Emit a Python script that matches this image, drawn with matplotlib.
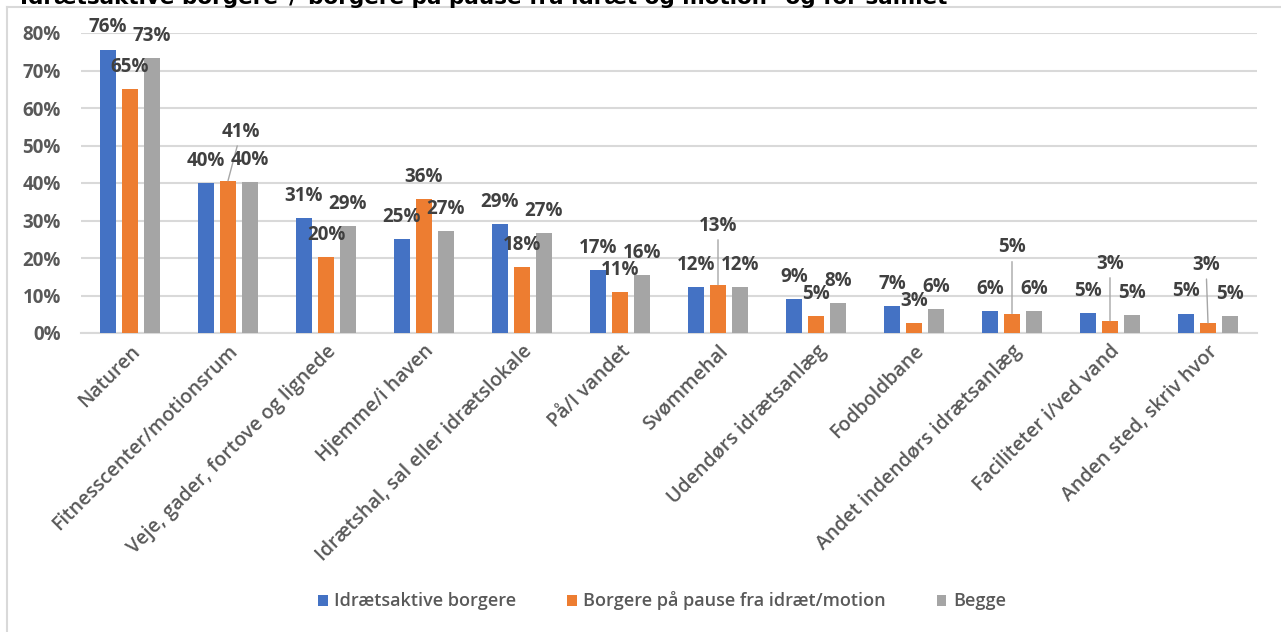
import matplotlib
matplotlib.use("Agg")
import matplotlib.pyplot as plt
from matplotlib.lines import Line2D
import numpy as np

plt.rcParams['font.family'] = ['Open Sans', 'DejaVu Sans']

title = 'Idrætsaktive borgere"/"borgere på pause fra idræt og motion" og for samlet'

categories = [
    "Naturen",
    "Fitnesscenter/motionsrum",
    "Veje, gader, fortove og lignede",
    "Hjemme/i haven",
    "Idrætshal, sal eller idrætslokale",
    "På/I vandet",
    "Svømmehal",
    "Udendørs idrætsanlæg",
    "Fodboldbane",
    "Andet indendørs idrætsanlæg",
    "Faciliteter i/ved vand",
    "Anden sted, skriv hvor",
]

series_names = [
    "Idrætsaktive borgere",
    "Borgere på pause fra idræt/motion",
    "Begge",
]

aktive = [75.6, 40.1, 30.6, 25.1, 29.1, 16.9, 12.2, 9.2, 7.2, 5.9, 5.4, 5.2]
pause = [65.2, 40.6, 20.3, 35.8, 17.6, 11.0, 12.9, 4.6, 2.6, 5.2, 3.3, 2.7]
begge = [73.3, 40.2, 28.6, 27.2, 26.6, 15.6, 12.2, 8.1, 6.3, 5.8, 4.7, 4.6]

yticks = [0, 10, 20, 30, 40, 50, 60, 70, 80]

colors = ["#4472C4", "#ED7D31", "#A5A5A5"]
label_color = "#404040"
axis_text = "#595959"
grid_color = "#D9D9D9"

W, H = 1281, 632
fig = plt.figure(figsize=(W / 100, H / 100), dpi=100)
ax = fig.add_axes([81 / W, 1 - 333 / H, (1257 - 81) / W, 300 / H])

x = np.arange(len(categories))
bar_w = 0.173
step = 0.2245
values = [aktive, pause, begge]

# label offsets in pixels (dx, dy) from the top of a bar; entries with a
# leader line are pushed further up
default_off = (0, 22)
moved = {
    (1, 1): (13, 49),
    (6, 1): (0, 59),
    (9, 1): (0, 66),
    (10, 1): (0, 57),
    (11, 1): (-2, 58),
}

for s, (vals, col) in enumerate(zip(values, colors)):
    xs = x + (s - 1) * step
    ax.bar(xs, vals, width=bar_w, color=col, zorder=3, label=series_names[s])
    for i, (xi, v) in enumerate(zip(xs, vals)):
        off = moved.get((i, s), default_off)
        kw = {}
        if (i, s) in moved:
            kw["arrowprops"] = dict(arrowstyle="-", color="#A6A6A6", lw=1.0,
                                    shrinkA=1, shrinkB=0)
        ax.annotate(f"{v:.0f}%", (xi, v), xytext=off, textcoords="offset pixels",
                    ha="center", va="center", fontsize=13.5, fontweight="bold",
                    color=label_color, annotation_clip=False, zorder=5, **kw)

ax.set_xlim(-0.5, len(categories) - 0.5)
ax.set_ylim(0, 80)
ax.set_yticks(yticks)
ax.set_yticklabels([f"{t}%" for t in yticks], fontsize=13.5, fontweight="bold",
                   color=axis_text)
ax.yaxis.grid(True, color=grid_color, lw=1.5, zorder=0)
ax.set_axisbelow(True)
ax.tick_params(axis="y", length=0, pad=14.5)
ax.tick_params(axis="x", length=0, pad=6)
ax.set_xticks(x)
ax.set_xticklabels(categories, rotation=45, ha="right", rotation_mode="anchor",
                   fontsize=14, fontweight="semibold", color=axis_text)
for side in ["top", "right", "left"]:
    ax.spines[side].set_visible(False)
ax.spines["bottom"].set_color(grid_color)
ax.spines["bottom"].set_linewidth(1.5)

leg = fig.legend(loc="center", bbox_to_anchor=(662 / W, 1 - 601 / H), ncol=3,
                 frameon=False, prop={"size": 13, "weight": "semibold"},
                 handlelength=0.55, handleheight=0.55,
                 handletextpad=0.35, columnspacing=2.8)
for t in leg.get_texts():
    t.set_color(axis_text)

# chart frame
fig.add_artist(Line2D([7 / W, 7 / W], [0, 1 - 7 / H], transform=fig.transFigure,
                      color=grid_color, lw=1.5))
fig.add_artist(Line2D([7 / W, 1], [1 - 7 / H, 1 - 7 / H], transform=fig.transFigure,
                      color=grid_color, lw=1.5))

fig.text(20 / W, 1 - 4 / H, title, ha="left", va="baseline", fontsize=15.5,
         fontweight="bold", color="black", family="DejaVu Sans")

fig.savefig("out.png", dpi=100, facecolor="white")
